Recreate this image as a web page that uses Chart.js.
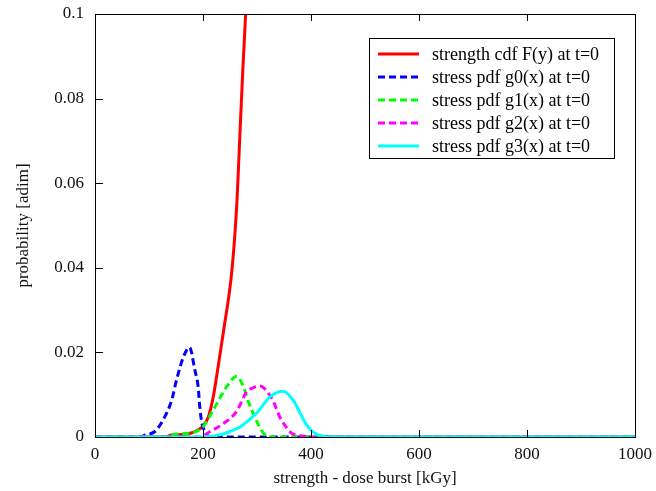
<!DOCTYPE html>
<html>
<head>
<meta charset="utf-8">
<script src="https://cdn.jsdelivr.net/npm/chart.js@4/dist/chart.umd.min.js"></script>
<style>
  html, body { margin: 0; padding: 0; background: #fff; }
  #chart { display: block; }
</style>
</head>
<body>
<canvas id="chart" width="656" height="491"></canvas>
<script>
// values (x = dose in kGy, y = probability)
const seriesNames = ['strength cdf F(y) at t=0', 'stress pdf g0(x) at t=0', 'stress pdf g1(x) at t=0',
    'stress pdf g2(x) at t=0', 'stress pdf g3(x) at t=0'];

const redX = [0, 130, 140, 160, 180, 200, 210, 219, 228, 238, 254, 263, 268.5, 274, 279, 284];
const redY = [0, 0, 0.0004, 0.0006, 0.001, 0.0026, 0.0048, 0.0095, 0.0166, 0.025, 0.040, 0.056, 0.072, 0.0875, 0.1, 0.115];

const blueX = [0, 83, 93, 111, 126, 142, 151, 164, 175, 185, 191, 194, 198, 204, 212, 1000];
const blueY = [0, 0, 0.0005, 0.0013, 0.004, 0.0087, 0.0135, 0.019, 0.0212, 0.0158, 0.0119, 0.0072, 0.0032, 0.0013, 0, 0];

const greenX = [0, 133, 139, 176, 200, 219, 244, 262, 275, 281, 290, 303, 312, 320, 1000];
const greenY = [0, 0, 0.0005, 0.0009, 0.0024, 0.0064, 0.0119, 0.0143, 0.0119, 0.0095, 0.0064, 0.0028, 0.0009, 0, 0];

const magentaX = [0, 194, 213, 238, 262, 281, 290, 307, 320, 330, 343, 355, 364, 374, 404, 1000];
const magentaY = [0, 0, 0.0013, 0.0032, 0.006, 0.0107, 0.0115, 0.012, 0.0105, 0.0085, 0.0045, 0.0022, 0.0009, 0.0005, 0, 0];

const cyanX = [0, 188, 231, 250, 270, 299, 324, 348, 367, 380, 392, 407, 423, 430, 1000];
const cyanY = [0, 0, 0.0005, 0.0013, 0.0025, 0.0056, 0.0095, 0.0108, 0.0087, 0.0056, 0.0028, 0.0009, 0.0002, 0, 0];

const xTicks = [0, 200, 400, 600, 800, 1000];
const yTicks = [0, 0.02, 0.04, 0.06, 0.08, 0.1];

const FONT = "'Liberation Serif', 'Times New Roman', serif";

function pts(xs, ys) {
    return xs.map((x, i) => ({ x: x, y: ys[i] }));
}

function line(label, xs, ys, color, dash, order) {
    return {
        label: label,
        data: pts(xs, ys),
        borderColor: color,
        backgroundColor: color,
        borderWidth: 3,
        borderDash: dash,
        pointRadius: 0,
        fill: false,
        cubicInterpolationMode: 'monotone',
        order: order,
    };
}

const dashed = [7, 4];

// frame, inward ticks and the boxed legend
const framePlugin = {
    id: 'frame',
    afterDraw(chart) {
        const ctx = chart.ctx;
        const a = chart.chartArea;
        const xs = chart.scales.x, ys = chart.scales.y;
        ctx.save();
        ctx.strokeStyle = '#000';
        ctx.lineWidth = 1;
        ctx.setLineDash([]);
        ctx.strokeRect(Math.round(a.left) + 0.5, Math.round(a.top) + 0.5,
            Math.round(a.right - a.left), Math.round(a.bottom - a.top));
        ctx.beginPath();
        xTicks.slice(1, -1).forEach(v => {
            const px = Math.round(xs.getPixelForValue(v)) + 0.5;
            ctx.moveTo(px, a.bottom); ctx.lineTo(px, a.bottom - 7);
            ctx.moveTo(px, a.top); ctx.lineTo(px, a.top + 7);
        });
        yTicks.slice(1, -1).forEach(v => {
            const py = Math.round(ys.getPixelForValue(v)) + 0.5;
            ctx.moveTo(a.left, py); ctx.lineTo(a.left + 8, py);
        });
        ctx.stroke();

        // legend
        const bx = 369.5, by = 38.5, bw = 245, bh = 120;
        ctx.fillStyle = '#fff';
        ctx.fillRect(bx, by, bw, bh);
        ctx.strokeRect(bx, by, bw, bh);
        ctx.font = '18px ' + FONT;
        ctx.textBaseline = 'middle';
        chart.data.datasets.forEach((ds, i) => {
            const y = 54 + i * 23;
            ctx.strokeStyle = ds.borderColor;
            ctx.lineWidth = 3;
            ctx.setLineDash(ds.borderDash || []);
            ctx.beginPath();
            ctx.moveTo(378, y); ctx.lineTo(419, y);
            ctx.stroke();
            ctx.fillStyle = '#000';
            ctx.fillText(ds.label, 432, y + 1);
        });
        ctx.restore();
    }
};

const ctx = document.getElementById('chart').getContext('2d');
const chart = new Chart(ctx, {
    type: 'line',
    data: {
        datasets: [
            line(seriesNames[0], redX, redY, '#ff0000', [], 5),
            line(seriesNames[1], blueX, blueY, '#0000ff', dashed, 4),
            line(seriesNames[2], greenX, greenY, '#00ff00', dashed, 3),
            line(seriesNames[3], magentaX, magentaY, '#ff00ff', dashed, 2),
            line(seriesNames[4], cyanX, cyanY, '#00ffff', [], 1),
        ]
    },
    options: {
        responsive: false,
        animation: false,
        devicePixelRatio: 1,
        layout: { padding: { left: 0, right: 21, top: 14, bottom: 0 } },
        plugins: {
            legend: { display: false },
            tooltip: { enabled: false },
        },
        scales: {
            x: {
                type: 'linear',
                min: 0,
                max: 1000,
                afterBuildTicks: (s) => { s.ticks = xTicks.map(v => ({ value: v })); },
                afterFit: (s) => { s.height = 54; s.paddingLeft = 0; s.paddingRight = 0; },
                grid: { display: false, drawTicks: false },
                border: { display: false },
                ticks: {
                    padding: 7,
                    color: '#111',
                    font: { family: FONT, size: 17 },
                    maxRotation: 0,
                    callback: (v) => String(v),
                },
                title: {
                    display: true,
                    text: 'strength - dose burst [kGy]',
                    color: '#111',
                    font: { family: FONT, size: 17 },
                    padding: { top: 0, bottom: 2 },
                },
            },
            y: {
                type: 'linear',
                min: 0,
                max: 0.1,
                afterBuildTicks: (s) => { s.ticks = yTicks.map(v => ({ value: v })); },
                afterFit: (s) => { s.width = 95; s.paddingTop = 0; s.paddingBottom = 0; },
                grid: { display: false, drawTicks: false },
                border: { display: false },
                ticks: {
                    padding: 11,
                    color: '#111',
                    font: { family: FONT, size: 17 },
                    callback: (v) => String(+v.toFixed(2)),
                },
                title: {
                    display: true,
                    text: 'probability [adim]',
                    color: '#111',
                    font: { family: FONT, size: 17 },
                    padding: { top: 13, bottom: 0 },
                },
            },
        },
    },
    plugins: [framePlugin],
});
</script>
</body>
</html>
